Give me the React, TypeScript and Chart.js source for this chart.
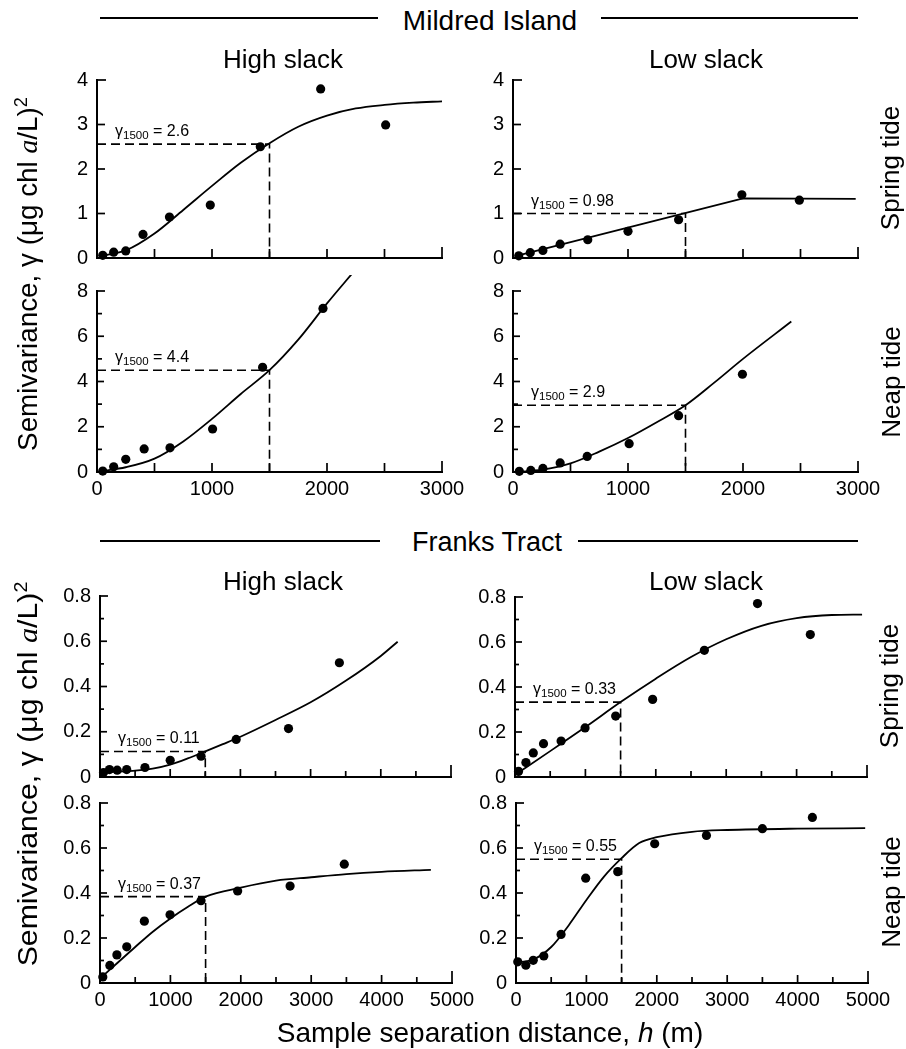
import React, { useEffect, useRef } from "react";
import { Chart, registerables } from "chart.js";

Chart.register(...registerables);

const FONT = '"Liberation Sans", Arial, Helvetica, sans-serif';
const TICK_COLOR = "#000";

// ---------------- data ----------------
const referenceLag = 1500;

// Mildred Island – high slack – spring tide
const miHighSpringLag = [50, 145, 250, 400, 630, 985, 1420, 1945, 2510];
const miHighSpringGamma = [0.06, 0.13, 0.16, 0.53, 0.92, 1.19, 2.5, 3.8, 2.99];
const miHighSpringFitLag = [40, 250, 500, 750, 1000, 1250, 1500, 1750, 2000, 2250, 2500, 2750, 3000];
const miHighSpringFitGamma = [0.05, 0.17, 0.55, 1.08, 1.62, 2.14, 2.58, 2.95, 3.2, 3.36, 3.44, 3.49, 3.52];

// Mildred Island – low slack – spring tide
const miLowSpringLag = [50, 150, 260, 410, 650, 1000, 1440, 1990, 2490];
const miLowSpringGamma = [0.05, 0.12, 0.17, 0.31, 0.41, 0.6, 0.86, 1.42, 1.3];
const miLowSpringFitLag = [30, 2000, 2980];
const miLowSpringFitGamma = [0.05, 1.34, 1.33];

// Mildred Island – high slack – neap tide
const miHighNeapLag = [50, 145, 250, 410, 635, 1005, 1440, 1965];
const miHighNeapGamma = [0.04, 0.23, 0.56, 1.02, 1.07, 1.9, 4.63, 7.23];
const miHighNeapFitLag = [30, 250, 500, 750, 1000, 1250, 1500, 1750, 2000, 2240];
const miHighNeapFitGamma = [0.03, 0.21, 0.59, 1.35, 2.35, 3.45, 4.5, 5.85, 7.45, 8.9];

// Mildred Island – low slack – neap tide
const miLowNeapLag = [55, 155, 260, 410, 645, 1010, 1440, 1995];
const miLowNeapGamma = [0.03, 0.07, 0.16, 0.4, 0.69, 1.25, 2.49, 4.32];
const miLowNeapFitLag = [40, 250, 500, 750, 1000, 1250, 1500, 1750, 2000, 2420];
const miLowNeapFitGamma = [0.0, 0.1, 0.38, 0.9, 1.5, 2.2, 2.95, 3.95, 5.0, 6.65];

// Franks Tract – high slack – spring tide
const ftHighSpringLag = [50, 135, 245, 380, 640, 1000, 1440, 1940, 2685, 3410];
const ftHighSpringGamma = [0.02, 0.033, 0.03, 0.033, 0.042, 0.074, 0.092, 0.166, 0.214, 0.505];
const ftHighSpringFitLag = [20, 250, 500, 750, 1000, 1250, 1500, 1750, 2000, 2500, 3000, 3500, 4000, 4240];
const ftHighSpringFitGamma = [0.02, 0.024, 0.028, 0.037, 0.055, 0.082, 0.113, 0.145, 0.178, 0.252, 0.33, 0.425, 0.535, 0.598];

// Franks Tract – low slack – spring tide
const ftLowSpringLag = [50, 155, 260, 405, 655, 995, 1430, 1955, 2690, 3445, 4195];
const ftLowSpringGamma = [0.025, 0.064, 0.107, 0.148, 0.16, 0.218, 0.271, 0.345, 0.563, 0.771, 0.633];
const ftLowSpringFitLag = [0, 500, 1000, 1500, 2000, 2500, 3000, 3500, 4000, 4500, 4930];
const ftLowSpringFitGamma = [0.01, 0.115, 0.222, 0.333, 0.437, 0.533, 0.612, 0.672, 0.706, 0.72, 0.722];

// Franks Tract – high slack – neap tide
const ftHighNeapLag = [40, 140, 240, 380, 630, 995, 1435, 1955, 2700, 3470];
const ftHighNeapGamma = [0.027, 0.078, 0.125, 0.161, 0.275, 0.303, 0.366, 0.409, 0.431, 0.528];
const ftHighNeapFitLag = [0, 250, 500, 750, 1000, 1250, 1500, 2000, 2500, 3000, 3500, 4000, 4700];
const ftHighNeapFitGamma = [0.02, 0.09, 0.16, 0.228, 0.287, 0.339, 0.384, 0.424, 0.455, 0.47, 0.484, 0.494, 0.503];

// Franks Tract – low slack – neap tide
const ftLowNeapLag = [25, 140, 245, 395, 640, 990, 1445, 1970, 2705, 3500, 4210];
const ftLowNeapGamma = [0.094, 0.079, 0.101, 0.12, 0.216, 0.466, 0.495, 0.619, 0.656, 0.686, 0.736];
const ftLowNeapFitLag = [0, 250, 500, 750, 1000, 1250, 1500, 1750, 2000, 2500, 3000, 4000, 4960];
const ftLowNeapFitGamma = [0.09, 0.105, 0.16, 0.257, 0.369, 0.473, 0.555, 0.622, 0.648, 0.672, 0.68, 0.686, 0.688];

// γ1500 annotations (text and dashed-line level)
const gamma1500Text = ["2.6", "0.98", "4.4", "2.9", "0.11", "0.33", "0.37", "0.55"];
const gamma1500Level = [2.56, 1.0, 4.5, 2.95, 0.113, 0.333, 0.384, 0.55];

// axes
const mildredXMax = 3000;
const franksXMax = 5000;
const xTickStep = 500;
const xLabelStep = 1000;
const mildredSpringYMax = 4;
const mildredNeapYMax = 8;
const franksYMax = 0.8;

// ---------------- layout ----------------
const PT = 16; // top padding inside canvas
const PR = 34; // right padding inside canvas
const YW = 62; // y axis width
const XH = 36; // x axis height

type Panel = {
  lag: number[];
  gamma: number[];
  fitLag: number[];
  fitGamma: number[];
  level: number;
  text: string;
  xMax: number;
  yMax: number;
  yStep: number;
  yLabelStep: number;
  showX: boolean;
  linearFit: boolean;
  L: number;
  R: number;
  T: number;
  B: number;
  xMajorLen: number;
  xMinorLen: number;
  xEndLen: number;
  yMajorLen: number;
  yMinorLen: number;
  yEndLen: number;
};

const isMult = (v: number, s: number) => Math.abs(v / s - Math.round(v / s)) < 1e-6;

const panels: Panel[] = [
  {
    lag: miHighSpringLag, gamma: miHighSpringGamma, fitLag: miHighSpringFitLag, fitGamma: miHighSpringFitGamma,
    level: gamma1500Level[0], text: gamma1500Text[0], xMax: mildredXMax, yMax: mildredSpringYMax, yStep: 1, yLabelStep: 1,
    showX: false, linearFit: false, L: 97, R: 442, T: 80, B: 258,
    xMajorLen: 9, xMinorLen: 9, xEndLen: 11, yMajorLen: 8, yMinorLen: 8, yEndLen: 9,
  },
  {
    lag: miLowSpringLag, gamma: miLowSpringGamma, fitLag: miLowSpringFitLag, fitGamma: miLowSpringFitGamma,
    level: gamma1500Level[1], text: gamma1500Text[1], xMax: mildredXMax, yMax: mildredSpringYMax, yStep: 1, yLabelStep: 1,
    showX: false, linearFit: true, L: 513, R: 858, T: 80, B: 258,
    xMajorLen: 9, xMinorLen: 9, xEndLen: 11, yMajorLen: 8, yMinorLen: 8, yEndLen: 9,
  },
  {
    lag: miHighNeapLag, gamma: miHighNeapGamma, fitLag: miHighNeapFitLag, fitGamma: miHighNeapFitGamma,
    level: gamma1500Level[2], text: gamma1500Text[2], xMax: mildredXMax, yMax: mildredNeapYMax, yStep: 1, yLabelStep: 2,
    showX: true, linearFit: false, L: 97, R: 442, T: 291, B: 472,
    xMajorLen: 9, xMinorLen: 9, xEndLen: 11, yMajorLen: 7, yMinorLen: 5, yEndLen: 8,
  },
  {
    lag: miLowNeapLag, gamma: miLowNeapGamma, fitLag: miLowNeapFitLag, fitGamma: miLowNeapFitGamma,
    level: gamma1500Level[3], text: gamma1500Text[3], xMax: mildredXMax, yMax: mildredNeapYMax, yStep: 1, yLabelStep: 2,
    showX: true, linearFit: false, L: 513, R: 858, T: 291, B: 472,
    xMajorLen: 9, xMinorLen: 9, xEndLen: 11, yMajorLen: 7, yMinorLen: 5, yEndLen: 8,
  },
  {
    lag: ftHighSpringLag, gamma: ftHighSpringGamma, fitLag: ftHighSpringFitLag, fitGamma: ftHighSpringFitGamma,
    level: gamma1500Level[4], text: gamma1500Text[4], xMax: franksXMax, yMax: franksYMax, yStep: 0.1, yLabelStep: 0.2,
    showX: false, linearFit: false, L: 100, R: 451, T: 596, B: 777,
    xMajorLen: 8, xMinorLen: 6, xEndLen: 12, yMajorLen: 7, yMinorLen: 4, yEndLen: 8,
  },
  {
    lag: ftLowSpringLag, gamma: ftLowSpringGamma, fitLag: ftLowSpringFitLag, fitGamma: ftLowSpringFitGamma,
    level: gamma1500Level[5], text: gamma1500Text[5], xMax: franksXMax, yMax: franksYMax, yStep: 0.1, yLabelStep: 0.2,
    showX: false, linearFit: false, L: 515, R: 867, T: 597, B: 777,
    xMajorLen: 8, xMinorLen: 6, xEndLen: 12, yMajorLen: 7, yMinorLen: 4, yEndLen: 8,
  },
  {
    lag: ftHighNeapLag, gamma: ftHighNeapGamma, fitLag: ftHighNeapFitLag, fitGamma: ftHighNeapFitGamma,
    level: gamma1500Level[6], text: gamma1500Text[6], xMax: franksXMax, yMax: franksYMax, yStep: 0.1, yLabelStep: 0.2,
    showX: true, linearFit: false, L: 100, R: 452, T: 803, B: 983,
    xMajorLen: 8, xMinorLen: 6, xEndLen: 12, yMajorLen: 7, yMinorLen: 4, yEndLen: 8,
  },
  {
    lag: ftLowNeapLag, gamma: ftLowNeapGamma, fitLag: ftLowNeapFitLag, fitGamma: ftLowNeapFitGamma,
    level: gamma1500Level[7], text: gamma1500Text[7], xMax: franksXMax, yMax: franksYMax, yStep: 0.1, yLabelStep: 0.2,
    showX: true, linearFit: false, L: 516, R: 868, T: 803, B: 983,
    xMajorLen: 8, xMinorLen: 6, xEndLen: 12, yMajorLen: 7, yMinorLen: 4, yEndLen: 8,
  },
];

const fmtY = (v: number, step: number) => (v === 0 ? "0" : step < 1 ? v.toFixed(1) : String(Math.round(v)));

function tickValues(step: number, max: number): number[] {
  const out: number[] = [];
  const n = Math.round(max / step);
  for (let i = 1; i <= n; i++) out.push(Math.round(i * step * 1e6) / 1e6);
  return out;
}

function PanelChart({ p }: { p: Panel }) {
  const ref = useRef<HTMLCanvasElement | null>(null);
  const w = p.R - p.L + YW + PR;
  const h = p.B - p.T + PT + XH;

  useEffect(() => {
    const canvas = ref.current;
    if (!canvas) return;

    const overlayPlugin = {
      id: "panelOverlay",
      afterDraw(chart: any) {
        const ctx = chart.ctx;
        const xs = chart.scales.x;
        const ys = chart.scales.y;
        const a = chart.chartArea;

        // inward tick marks, positioned through the scales
        ctx.save();
        ctx.fillStyle = TICK_COLOR;
        const tw = 1.7;
        const xv = tickValues(xTickStep, p.xMax);
        for (let i = 0; i < xv.length; i++) {
          const v = xv[i];
          const px = xs.getPixelForValue(v);
          const len = v >= p.xMax - 1e-9 ? p.xEndLen : isMult(v, xLabelStep) ? p.xMajorLen : p.xMinorLen;
          ctx.fillRect(px - tw / 2, a.bottom - len, tw, len);
        }
        const yv = tickValues(p.yStep, p.yMax);
        for (let i = 0; i < yv.length; i++) {
          const v = yv[i];
          const py = ys.getPixelForValue(v);
          const len = v >= p.yMax - 1e-9 ? p.yEndLen : isMult(v, p.yLabelStep) ? p.yMajorLen : p.yMinorLen;
          ctx.fillRect(a.left, py - tw / 2, len, tw);
        }
        ctx.restore();

        // γ1500 annotation
        let x = a.left + 18;
        const y = ys.getPixelForValue(p.level) - 8;
        ctx.save();
        ctx.fillStyle = "#000";
        ctx.textBaseline = "alphabetic";
        ctx.textAlign = "left";
        ctx.font = `16px ${FONT}`;
        ctx.fillText("\u03B3", x, y);
        x += ctx.measureText("\u03B3").width;
        ctx.font = `11.5px ${FONT}`;
        ctx.fillText("1500", x, y + 3);
        x += ctx.measureText("1500").width;
        ctx.font = `16px ${FONT}`;
        ctx.fillText(" = " + p.text, x, y);
        ctx.restore();
      },
    };

    const chart = new Chart(canvas, {
      type: "scatter",
      data: {
        datasets: [
          {
            type: "line",
            data: p.fitLag.map((x, i) => ({ x, y: p.fitGamma[i] })),
            borderColor: "#000",
            borderWidth: 1.8,
            pointRadius: 0,
            tension: 0,
            cubicInterpolationMode: p.linearFit ? "default" : "monotone",
            fill: false,
            clip: false,
            order: 3,
          } as any,
          {
            type: "line",
            data: [
              { x: 0, y: p.level },
              { x: referenceLag, y: p.level },
              { x: referenceLag, y: 0 },
            ],
            borderColor: "#000",
            borderWidth: 1.6,
            borderDash: [9, 5],
            pointRadius: 0,
            tension: 0,
            fill: false,
            clip: false,
            order: 2,
          } as any,
          {
            type: "scatter",
            data: p.lag.map((x, i) => ({ x, y: p.gamma[i] })),
            pointRadius: 4.6,
            pointBackgroundColor: "#000",
            pointBorderColor: "#000",
            pointBorderWidth: 0,
            clip: false,
            order: 1,
          } as any,
        ],
      },
      options: {
        responsive: false,
        maintainAspectRatio: false,
        animation: false,
        devicePixelRatio: 1,
        events: [],
        layout: { padding: { left: 0, top: PT, right: PR, bottom: 0 } },
        plugins: {
          legend: { display: false },
          tooltip: { enabled: false },
          title: { display: false },
        },
        scales: {
          x: {
            type: "linear",
            position: "bottom",
            min: 0,
            max: p.xMax,
            grid: { display: false, drawTicks: false },
            border: { display: true, color: "#000", width: 2 },
            ticks: {
              stepSize: xTickStep,
              autoSkip: false,
              maxRotation: 0,
              minRotation: 0,
              padding: 5,
              color: "#000",
              font: { family: FONT, size: 20 },
              callback: (v: any) => (p.showX && isMult(Number(v), xLabelStep) ? String(v) : ""),
            },
            afterFit: (s: any) => {
              s.height = XH;
              s.paddingLeft = 0;
              s.paddingRight = 0;
            },
          },
          y: {
            type: "linear",
            position: "left",
            min: 0,
            max: p.yMax,
            grid: { display: false, drawTicks: false },
            border: { display: true, color: "#000", width: 2 },
            ticks: {
              stepSize: p.yStep,
              autoSkip: false,
              padding: 9,
              color: "#000",
              font: { family: FONT, size: 20 },
              callback: (v: any) => (isMult(Number(v), p.yLabelStep) ? fmtY(Number(v), p.yLabelStep) : ""),
            },
            afterFit: (s: any) => {
              s.width = YW;
              s.paddingTop = 0;
              s.paddingBottom = 0;
            },
          },
        },
      } as any,
      plugins: [overlayPlugin],
    });
    return () => chart.destroy();
  }, [p]);

  return (
    <canvas
      ref={ref}
      width={w}
      height={h}
      style={{ position: "absolute", left: p.L - YW, top: p.T - PT, width: w, height: h }}
    />
  );
}

function Txt({
  x,
  y,
  size,
  rot,
  children,
  scale,
}: {
  x: number;
  y: number;
  size: number;
  rot?: boolean;
  children: React.ReactNode;
  scale?: number;
}) {
  return (
    <div
      style={{
        position: "absolute",
        left: x,
        top: y,
        transform: `translate(-50%, -50%)${rot ? " rotate(-90deg)" : ""}${scale ? ` scaleX(${scale})` : ""}`,
        fontSize: size,
        lineHeight: 1,
        whiteSpace: "nowrap",
        fontFamily: FONT,
        color: "#000",
      }}
    >
      {children}
    </div>
  );
}

function Rule({ x1, x2, y }: { x1: number; x2: number; y: number }) {
  return <div style={{ position: "absolute", left: x1, top: y - 0.75, width: x2 - x1, height: 1.5, background: "#000" }} />;
}

const YTitle = () => (
  <>
    Semivariance, {"\u03B3"} ({"\u03BC"}g chl{" "}
    <span style={{ fontFamily: '"Liberation Serif", serif', fontStyle: "italic" }}>a</span>/L)
    <span style={{ fontSize: "0.65em", position: "relative", top: "-0.55em" }}>2</span>
  </>
);

export default function App() {
  return (
    <div
      style={{
        position: "absolute",
        left: 0,
        top: 0,
        width: 906,
        height: 1049,
        overflow: "hidden",
        background: "#fff",
        fontFamily: FONT,
      }}
    >
      {panels.map((p, i) => (
        <PanelChart key={i} p={p} />
      ))}

      <Rule x1={100} x2={378} y={18} />
      <Rule x1={601} x2={858} y={18} />
      <Txt x={490} y={21} size={28}>Mildred Island</Txt>

      <Txt x={283} y={59} size={26}>High slack</Txt>
      <Txt x={706} y={59} size={26}>Low slack</Txt>

      <Rule x1={100} x2={380} y={541} />
      <Rule x1={578} x2={858} y={541} />
      <Txt x={487} y={542} size={27}>Franks Tract</Txt>

      <Txt x={283} y={581} size={26}>High slack</Txt>
      <Txt x={706} y={581} size={26}>Low slack</Txt>

      <Txt x={890} y={168} size={26} rot>Spring tide</Txt>
      <Txt x={891} y={382} size={26} rot>Neap tide</Txt>
      <Txt x={889} y={686} size={26} rot>Spring tide</Txt>
      <Txt x={891} y={892} size={26} rot>Neap tide</Txt>

      <Txt x={28} y={274} size={27} rot scale={1.03}>
        <YTitle />
      </Txt>
      <Txt x={28} y={774} size={27} rot scale={1.12}>
        <YTitle />
      </Txt>

      <Txt x={490} y={1033} size={28}>
        Sample separation distance, <span style={{ fontStyle: "italic" }}>h</span> (m)
      </Txt>
    </div>
  );
}
